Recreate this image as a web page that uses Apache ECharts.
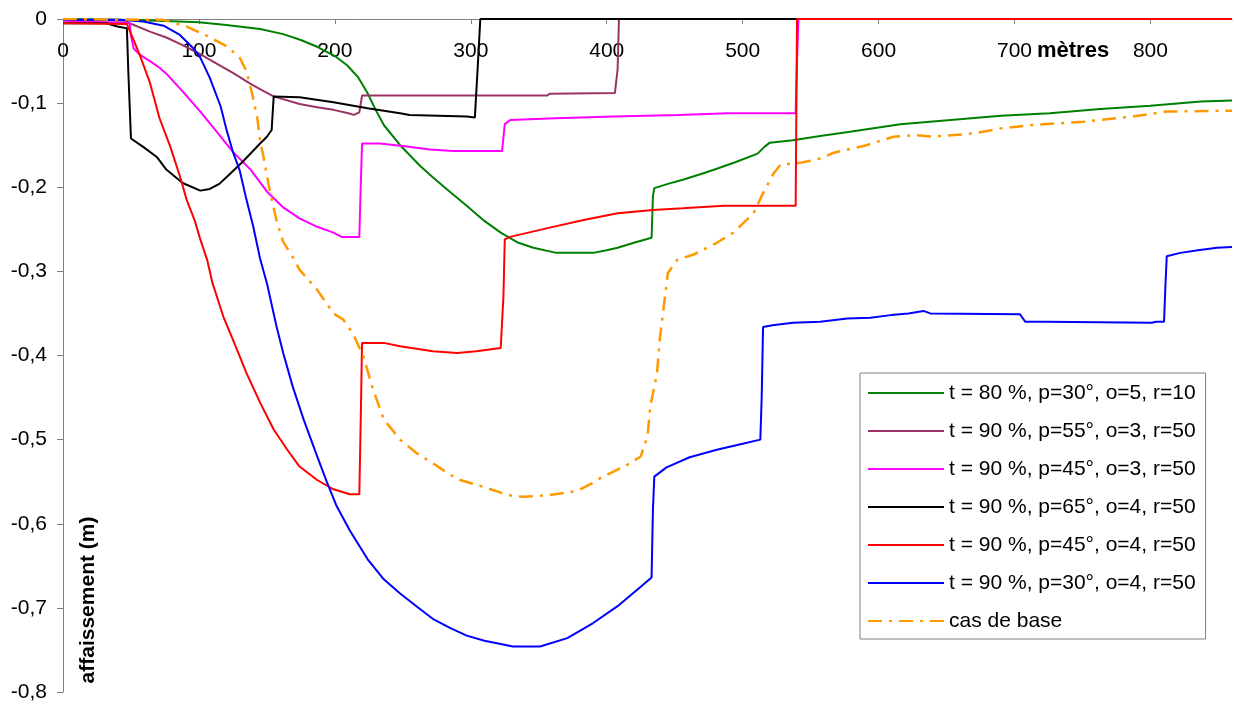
<!DOCTYPE html>
<html>
<head>
<meta charset="utf-8">
<script src="https://cdn.jsdelivr.net/npm/echarts@6/dist/echarts.min.js"></script>
<style>
html,body{margin:0;padding:0;background:#fff;}
#chart{width:1234px;height:704px;}
</style>
</head>
<body>
<div id="chart"></div>
<script>
const seriesNames = [
  't = 80 %, p=30°, o=5, r=10',
  't = 90 %, p=55°, o=3, r=50',
  't = 90 %, p=45°, o=3, r=50',
  't = 90 %, p=65°, o=4, r=50',
  't = 90 %, p=45°, o=4, r=50',
  't = 90 %, p=30°, o=4, r=50',
  'cas de base'
];
const xTicks = [0,100,200,300,400,500,600,700,800];
const yTicks = [0,-0.1,-0.2,-0.3,-0.4,-0.5,-0.6,-0.7,-0.8];

const greenData = [[0,0],[40,-0.001],[70,-0.002],[100,-0.004],[120,-0.007],[145,-0.012],[162,-0.018],[175,-0.025],[187,-0.033],[200,-0.044],[209,-0.055],[217,-0.069],[224,-0.088],[230,-0.108],[236,-0.126],[248,-0.15],[263,-0.175],[272,-0.188],[285,-0.206],[297,-0.222],[310,-0.24],[322,-0.254],[335,-0.266],[346,-0.272],[363,-0.278],[390,-0.278],[400,-0.275],[408,-0.272],[420,-0.266],[433,-0.26],[434,-0.21],[435,-0.201],[445,-0.196],[456,-0.191],[470,-0.184],[481,-0.178],[495,-0.17],[511,-0.16],[516,-0.152],[520,-0.147],[537,-0.144],[557,-0.139],[579,-0.134],[600,-0.129],[616,-0.125],[653,-0.12],[690,-0.115],[726,-0.112],[763,-0.107],[800,-0.103],[837,-0.098],[860,-0.097]];

const purpleData = [[0,-0.001],[45,-0.002],[49,-0.005],[64,-0.015],[76,-0.022],[88,-0.031],[100,-0.041],[113,-0.053],[125,-0.064],[138,-0.077],[148,-0.086],[155,-0.092],[174,-0.101],[187,-0.105],[199,-0.108],[210,-0.112],[214,-0.114],[218,-0.111],[220,-0.091],[300,-0.091],[356,-0.091],[358,-0.089],[406,-0.088],[408,-0.06],[409,0],[860,0]];

const magentaData = [[0,-0.002],[49,-0.005],[50,-0.02],[52,-0.035],[57,-0.043],[64,-0.05],[71,-0.058],[76,-0.065],[88,-0.086],[101,-0.11],[113,-0.134],[125,-0.158],[138,-0.179],[150,-0.205],[162,-0.224],[174,-0.237],[187,-0.247],[199,-0.254],[205,-0.259],[218,-0.259],[219,-0.2],[220,-0.148],[233,-0.148],[250,-0.151],[270,-0.155],[287,-0.157],[323,-0.157],[325,-0.125],[329,-0.12],[362,-0.118],[405,-0.116],[453,-0.114],[489,-0.112],[507,-0.112],[539,-0.112],[540,-0.05],[541,0],[860,0]];

const blackData = [[0,-0.005],[32,-0.005],[40,-0.009],[47,-0.011],[48,-0.06],[50,-0.142],[59,-0.152],[69,-0.164],[76,-0.179],[88,-0.195],[101,-0.204],[108,-0.202],[115,-0.196],[121,-0.187],[132,-0.17],[145,-0.148],[150,-0.14],[153.5,-0.132],[155,-0.092],[174,-0.093],[199,-0.099],[224,-0.106],[248,-0.112],[255,-0.114],[297,-0.116],[303,-0.117],[305,-0.06],[307,0],[860,0]];

const redData = [[0,-0.005],[47,-0.006],[52,-0.025],[57,-0.045],[64,-0.076],[71,-0.118],[79,-0.152],[86,-0.187],[91,-0.215],[97,-0.24],[101,-0.262],[106,-0.286],[110,-0.314],[118,-0.354],[125,-0.381],[135,-0.421],[145,-0.456],[155,-0.488],[165,-0.512],[174,-0.532],[187,-0.548],[199,-0.559],[211,-0.565],[218,-0.565],[219,-0.48],[220,-0.385],[236,-0.385],[248,-0.389],[260,-0.392],[272,-0.395],[290,-0.397],[304,-0.395],[322,-0.391],[324,-0.33],[325,-0.262],[329,-0.259],[358,-0.248],[383,-0.239],[408,-0.231],[434,-0.227],[456,-0.225],[486,-0.222],[539,-0.222],[540,0],[860,0]];

const blueData = [[0,-0.001],[42,-0.001],[59,-0.003],[74,-0.008],[86,-0.019],[96,-0.035],[101,-0.046],[108,-0.07],[116,-0.104],[120,-0.13],[125,-0.158],[130,-0.18],[135,-0.215],[140,-0.247],[145,-0.285],[150,-0.314],[157,-0.365],[162,-0.397],[169,-0.437],[177,-0.476],[187,-0.52],[194,-0.55],[201,-0.578],[211,-0.608],[224,-0.642],[236,-0.666],[248,-0.683],[260,-0.698],[272,-0.713],[285,-0.724],[297,-0.733],[310,-0.739],[322,-0.743],[331,-0.746],[351,-0.746],[371,-0.736],[390,-0.718],[408,-0.698],[425,-0.675],[433,-0.664],[434,-0.583],[435,-0.544],[444,-0.533],[461,-0.521],[481,-0.512],[500,-0.505],[513,-0.5],[514,-0.45],[515,-0.366],[522,-0.364],[537,-0.361],[557,-0.36],[577,-0.356],[594,-0.355],[609,-0.352],[622,-0.35],[633,-0.347],[638,-0.35],[704,-0.351],[708,-0.36],[723,-0.36],[724,-0.361],[801,-0.361],[804,-0.36],[810,-0.36],[811,-0.318],[812,-0.282],[822,-0.278],[835,-0.275],[849,-0.272],[860,-0.271]];

const orangeData = [[0,0],[74,-0.001],[91,-0.009],[106,-0.02],[121,-0.033],[130,-0.046],[135,-0.062],[139,-0.088],[143,-0.118],[145,-0.145],[147,-0.16],[152,-0.203],[157,-0.239],[162,-0.265],[169,-0.283],[174,-0.298],[187,-0.322],[199,-0.35],[206,-0.357],[213,-0.373],[221,-0.401],[228,-0.44],[236,-0.476],[248,-0.5],[260,-0.516],[272,-0.528],[290,-0.547],[309,-0.556],[322,-0.563],[331,-0.567],[339,-0.568],[358,-0.566],[378,-0.561],[388,-0.553],[395,-0.546],[415,-0.53],[425,-0.52],[430,-0.496],[432,-0.461],[437,-0.421],[439,-0.381],[442,-0.342],[445,-0.302],[452,-0.286],[464,-0.28],[481,-0.266],[493,-0.254],[508,-0.231],[515,-0.207],[523,-0.183],[528,-0.173],[542,-0.171],[555,-0.167],[567,-0.159],[591,-0.15],[611,-0.14],[628,-0.138],[640,-0.14],[670,-0.136],[690,-0.13],[714,-0.126],[751,-0.122],[787,-0.116],[812,-0.11],[860,-0.109]];

const allData = [greenData, purpleData, magentaData, blackData, redData, blueData, orangeData];
const colors = ['#008000','#993366','#FF00FF','#000000','#FF0000','#0000FF','#FF9900'];
const FONT = '"Liberation Sans", Arial, sans-serif';

const chart = echarts.init(document.getElementById('chart'), null, {renderer:'canvas'});
const series = allData.map((d, i) => ({
  name: seriesNames[i],
  type: 'line',
  data: d,
  symbol: 'none',
  smooth: false,
  animation: false,
  lineStyle: i === 6
    ? {color: colors[i], width: 2.5, type: [14, 7, 3, 7]}
    : {color: colors[i], width: 2},
  itemStyle: {color: colors[i]}
}));

chart.setOption({
  backgroundColor: '#fff',
  animation: false,
  grid: {left: 63, right: 2, top: 19, bottom: 12, containLabel: false},
  xAxis: {
    type: 'value', position: 'top', min: 0, max: 860, interval: 100,
    axisLine: {show: true, lineStyle: {color: '#808080', width: 1}},
    axisTick: {show: true, inside: true, length: 5, lineStyle: {color: '#808080'}},
    axisLabel: {
      inside: true, margin: 22, color: '#000', fontSize: 21, fontFamily: FONT,
      showMaxLabel: false,
      formatter: v => xTicks.includes(v) ? String(v) : ''
    },
    splitLine: {show: false}
  },
  yAxis: {
    type: 'value', min: -0.8, max: 0, interval: 0.1,
    axisLine: {show: true, lineStyle: {color: '#808080', width: 1}},
    axisTick: {show: true, inside: false, length: 6, lineStyle: {color: '#808080'}},
    axisLabel: {
      margin: 16, color: '#000', fontSize: 21, fontFamily: FONT,
      formatter: v => {
        if (Math.abs(v) < 1e-9) return '0';
        const t = yTicks.find(k => Math.abs(k - v) < 1e-6);
        return t === undefined ? '' : t.toFixed(1).replace('.', ',');
      }
    },
    splitLine: {show: false}
  },
  legend: {
    orient: 'vertical', left: 860, top: 373,
    padding: [8, 10, 6, 7],
    itemWidth: 76, itemHeight: 14, itemGap: 14,
    itemStyle: {opacity: 0},
    backgroundColor: '#fff', borderColor: '#808080', borderWidth: 1,
    textStyle: {color: '#000', fontSize: 21, fontFamily: FONT, lineHeight: 24},
    data: seriesNames
  },
  graphic: [
    {type: 'text', left: 1037, top: 40, style: {text: 'mètres', font: 'bold 22px ' + FONT, fill: '#000'}},
    {type: 'text', x: 88, y: 600, rotation: Math.PI / 2,
     style: {text: 'affaissement (m)', font: 'bold 21px ' + FONT, fill: '#000', align: 'center', verticalAlign: 'middle'}}
  ],
  series: series
});
</script>
</body>
</html>
